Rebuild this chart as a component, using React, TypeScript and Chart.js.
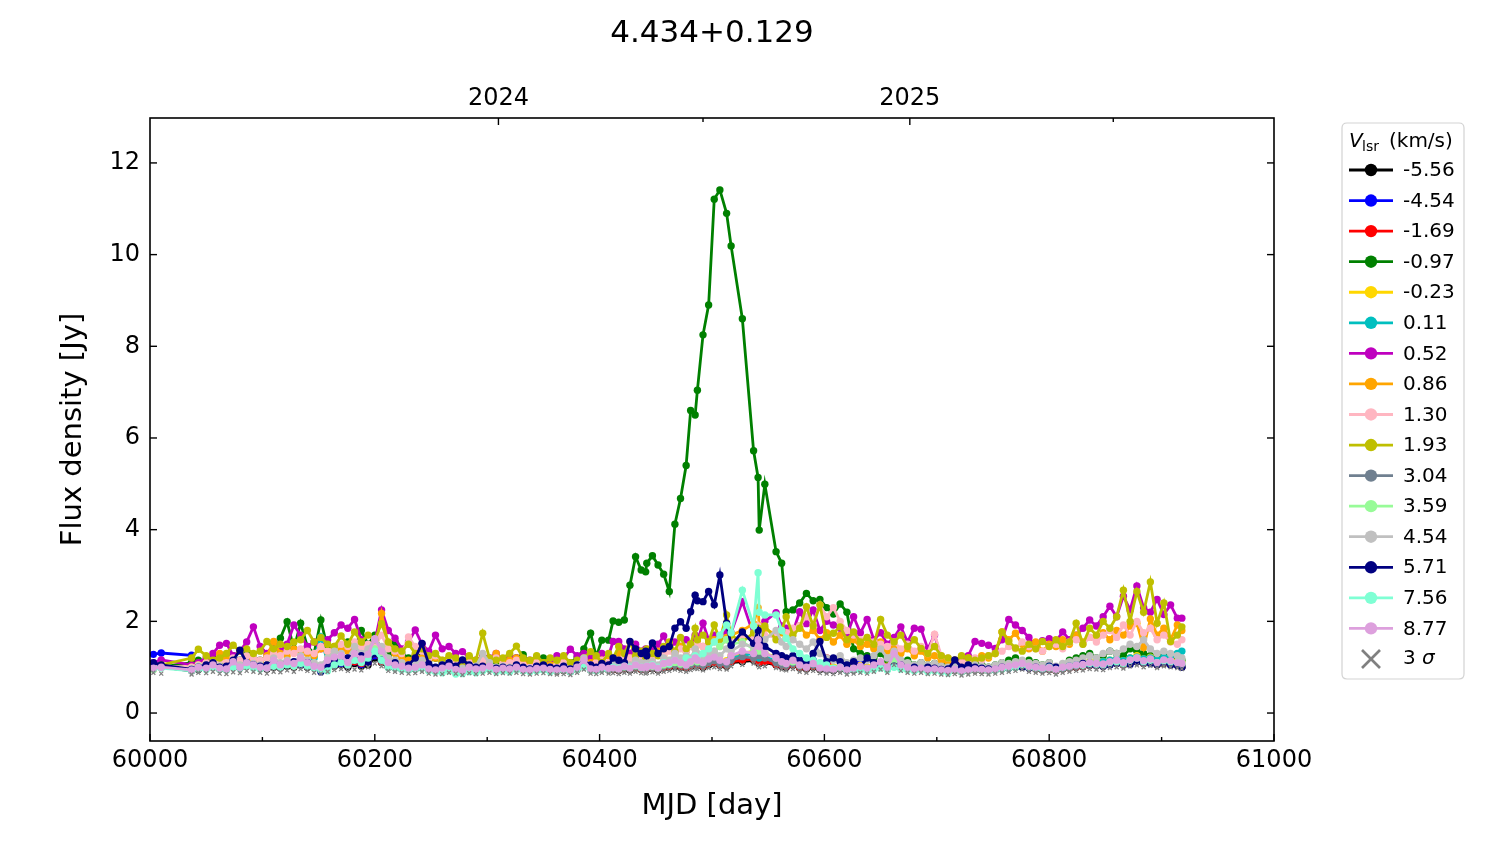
import React, { useEffect, useRef } from "react";
import { Chart, registerables } from "chart.js";

Chart.register(...registerables);

// ---------- data ----------
const titleText = "4.434+0.129";
const xTicks = [60000, 60200, 60400, 60600, 60800, 61000];
const xMinorTicks = [60100, 60300, 60500, 60700, 60900];
const yTicks = [0, 2, 4, 6, 8, 10, 12];
const yearTicks = [60310, 60676];
const yearLabels = ["2024", "2025"];
const yearMinorTicks = [60492, 60857];

const epochs = [
  60003, 60010, 60037, 60043, 60050, 60056, 60062, 60068, 60074, 60080, 60086, 60092,
  60098, 60104, 60110, 60116, 60122, 60128, 60134, 60140, 60146, 60152, 60158, 60164,
  60170, 60176, 60182, 60188, 60194, 60200, 60206, 60212, 60218, 60224, 60230, 60236,
  60242, 60248, 60254, 60260, 60266, 60272, 60278, 60284, 60290, 60296, 60302, 60308,
  60314, 60320, 60326, 60332, 60338, 60344, 60350, 60356, 60362, 60368, 60374, 60380,
  60386, 60392, 60397, 60402, 60408, 60412, 60417, 60422, 60427, 60432, 60437, 60441,
  60442, 60447, 60452, 60457, 60462, 60467, 60472, 60477, 60481, 60485, 60487, 60492,
  60497, 60502, 60507, 60513, 60517, 60527, 60537, 60541, 60542, 60547, 60557, 60562,
  60566, 60572, 60578, 60584, 60590, 60596, 60602, 60608, 60614, 60620, 60626, 60632,
  60638, 60644, 60650, 60656, 60662, 60668, 60674, 60680, 60686, 60692, 60698, 60704,
  60710, 60716, 60722, 60728, 60734, 60740, 60746, 60752, 60758, 60764, 60770, 60776,
  60782, 60788, 60794, 60800, 60806, 60812, 60818, 60824, 60830, 60836, 60842, 60848,
  60854, 60860, 60866, 60872, 60878, 60884, 60890, 60896, 60902, 60908, 60914, 60918,
];

const v_m556 = [
  1.05,1.00,0.92,0.95,0.98,1.00,0.96,0.95,1.00,0.98,1.02,1.00,
  0.98,0.96,1.00,0.98,1.02,1.00,1.05,1.00,0.98,0.95,1.00,1.02,
  1.05,1.00,1.08,1.02,1.05,1.20,1.10,1.00,0.98,0.96,0.95,0.96,
  0.98,0.94,0.92,0.94,0.96,0.92,0.90,0.95,0.92,0.94,0.96,0.92,
  0.94,0.92,0.96,0.93,0.92,0.94,0.95,0.92,0.91,0.93,0.90,0.95,
  1.02,0.94,0.93,0.96,0.94,0.95,0.93,0.96,0.94,0.98,0.95,0.94,
  0.96,0.97,0.94,0.98,1.00,1.02,1.00,0.98,1.02,1.05,1.04,1.00,
  1.05,1.08,1.04,1.02,1.10,1.12,1.15,1.12,1.08,1.10,1.05,1.02,
  1.00,1.04,0.98,0.96,1.00,0.95,0.94,0.93,0.96,0.92,0.94,0.96,
  0.94,0.98,1.02,0.96,1.12,1.00,0.96,0.94,0.96,0.93,0.94,0.92,
  0.91,0.93,0.90,0.92,0.94,0.93,0.92,0.94,0.96,0.98,1.00,1.02,
  0.98,0.96,0.94,0.95,0.92,0.96,0.98,1.00,1.01,1.04,1.03,1.02,
  1.06,1.08,1.05,1.10,1.12,1.08,1.10,1.05,1.08,1.06,1.04,1.00,
];
const v_m454 = [
  1.28,1.31,1.26,1.00,1.02,1.05,1.00,0.98,1.05,1.02,1.08,1.04,
  1.00,0.98,1.05,1.02,1.06,1.04,1.10,1.05,1.00,0.96,1.02,1.05,
  1.08,1.04,1.12,1.06,1.10,1.25,1.15,1.02,1.00,0.98,0.96,0.98,
  1.02,0.96,0.94,0.96,0.98,0.94,0.92,0.98,0.94,0.96,0.98,0.94,
  0.96,0.94,0.98,0.95,0.94,0.96,1.00,0.94,0.93,0.95,0.92,0.98,
  1.05,0.96,0.95,0.98,0.96,0.98,0.95,1.00,0.97,1.02,0.98,0.96,
  0.98,1.00,0.97,1.02,1.04,1.06,1.04,1.02,1.06,1.10,1.08,1.05,
  1.10,1.12,1.08,1.06,1.15,1.18,1.20,1.16,1.12,1.14,1.08,1.05,
  1.02,1.08,1.02,1.00,1.15,0.98,0.96,0.95,0.98,0.94,1.00,1.10,
  0.96,1.00,1.05,0.98,1.15,1.02,0.98,0.96,0.98,0.95,0.96,0.94,
  0.93,0.95,0.92,0.94,0.96,0.95,0.94,0.96,0.98,1.00,1.02,1.04,
  1.00,0.98,0.96,0.97,0.94,0.98,1.00,1.02,1.03,1.06,1.05,1.04,
  1.08,1.10,1.07,1.12,1.14,1.10,1.12,1.07,1.10,1.08,1.06,1.02,
];
const v_m169 = [
  1.00,1.02,0.95,1.00,1.02,1.05,1.00,0.98,1.04,1.00,1.06,1.02,
  1.00,0.98,1.04,1.00,1.08,1.02,1.10,1.04,1.00,0.96,1.04,1.08,
  1.10,1.05,1.12,1.08,1.10,1.30,1.12,1.02,1.00,0.97,0.96,0.98,
  1.00,0.95,0.93,0.95,0.97,0.93,0.92,0.96,0.93,0.95,0.97,0.93,
  0.95,0.93,0.97,0.94,0.93,0.95,0.96,0.93,0.92,0.94,0.92,0.96,
  1.04,0.95,0.94,0.97,0.95,0.96,0.94,0.98,0.96,1.00,0.96,0.95,
  0.98,0.99,0.96,1.00,1.02,1.05,1.02,1.00,1.04,1.08,1.06,1.02,
  1.08,1.10,1.06,1.04,1.12,1.15,1.18,1.14,1.10,1.12,1.06,1.04,
  1.02,1.06,1.00,0.98,1.02,0.97,1.20,0.95,0.98,0.94,0.96,0.98,
  0.96,1.00,1.04,0.98,1.14,1.02,0.98,0.96,0.98,0.95,0.96,0.94,
  0.92,0.94,0.91,0.93,0.95,0.94,0.93,0.95,0.97,0.99,1.01,1.03,
  0.99,0.97,0.95,0.96,0.93,0.97,0.99,1.01,1.02,1.05,1.04,1.03,
  1.07,1.09,1.06,1.11,1.13,1.09,1.11,1.06,1.09,1.07,1.05,1.01,
];
const v_m097 = [
  1.05,1.00,1.10,1.15,1.05,1.20,1.10,1.05,1.25,1.15,1.30,1.20,
  1.15,1.20,1.30,1.63,1.99,1.40,1.96,1.45,1.30,2.03,1.40,1.35,
  1.45,1.55,1.40,1.80,1.50,1.70,1.35,1.25,1.55,1.30,1.20,1.25,
  1.30,1.15,1.20,1.10,1.15,1.05,1.10,1.20,1.10,1.23,1.15,1.10,
  1.15,1.10,1.20,1.27,1.10,1.15,1.20,1.10,1.05,1.15,1.10,1.20,
  1.40,1.74,1.23,1.59,1.59,2.01,1.98,2.03,2.79,3.41,3.12,3.08,
  3.27,3.43,3.23,3.03,2.65,4.12,4.68,5.40,6.60,6.50,7.04,8.25,
  8.90,11.21,11.41,10.90,10.19,8.60,5.72,5.14,3.99,4.99,3.52,3.27,
  2.21,2.25,2.40,2.61,2.45,2.48,2.30,2.16,2.38,2.20,1.40,1.30,
  1.25,1.20,1.30,1.15,1.20,1.10,1.15,1.05,1.10,1.05,1.08,1.02,
  1.18,1.10,1.05,1.20,1.10,1.05,1.00,1.05,1.10,1.15,1.20,1.10,
  1.15,1.10,1.05,1.10,1.00,1.05,1.15,1.20,1.25,1.30,1.20,1.25,
  1.35,1.30,1.25,1.40,1.35,1.30,1.25,1.20,1.30,1.25,1.20,1.15,
];
const v_m023 = [
  1.02,1.00,0.98,1.05,1.04,1.08,1.02,1.00,1.10,1.04,1.12,1.06,
  1.04,1.02,1.10,1.06,1.12,1.08,1.15,1.10,1.04,1.00,1.08,1.12,
  1.15,1.08,1.20,1.12,1.18,1.40,1.20,1.06,1.04,1.00,0.98,1.00,
  1.04,0.98,0.96,0.98,1.00,0.96,0.94,0.99,0.96,1.05,1.00,0.96,
  0.98,0.96,1.02,0.97,0.96,0.98,0.99,0.96,0.95,0.97,0.94,1.00,
  1.08,0.98,0.96,1.00,0.98,1.02,0.98,1.04,1.00,1.06,1.02,1.00,
  1.04,1.05,1.00,1.08,1.10,1.12,1.10,1.08,1.12,1.18,1.15,1.12,
  1.18,1.22,1.16,1.14,1.25,1.30,1.35,1.40,1.28,1.30,1.22,1.18,
  1.12,1.18,1.10,1.06,1.12,1.04,1.02,1.00,1.04,0.98,1.02,1.04,
  1.00,1.06,1.10,1.02,1.20,1.06,1.02,1.00,1.02,0.98,1.00,0.97,
  0.95,0.98,0.94,0.96,0.99,0.98,0.96,0.99,1.02,1.04,1.06,1.10,
  1.04,1.02,1.00,1.01,0.98,1.02,1.04,1.08,1.10,1.12,1.10,1.12,
  1.15,1.18,1.14,1.20,1.25,1.18,1.22,1.14,1.18,1.16,1.12,1.10,
];
const v_011 = [
  1.00,1.04,0.96,1.00,1.02,1.06,1.00,0.98,1.08,1.02,1.08,1.04,
  1.02,1.00,1.08,1.04,1.10,1.06,1.12,1.08,1.20,1.66,1.10,1.15,
  1.18,1.10,1.22,1.15,1.20,1.35,1.18,1.05,1.02,0.98,0.97,0.99,
  1.02,0.96,0.94,0.96,0.98,0.94,0.93,0.97,0.94,0.96,0.98,0.94,
  0.96,0.94,0.99,0.95,0.94,0.96,0.97,0.94,0.93,0.95,0.93,0.98,
  1.06,0.96,0.95,0.98,0.96,1.00,0.96,1.02,0.98,1.04,1.00,0.98,
  1.02,1.03,0.98,1.06,1.08,1.10,1.08,1.05,1.10,1.15,1.12,1.08,
  1.15,1.18,1.12,1.10,1.20,1.25,1.30,1.28,1.20,1.22,1.15,1.12,
  1.08,1.12,1.05,1.02,1.08,1.00,0.98,0.97,1.00,0.95,0.98,1.00,
  0.97,1.02,1.06,0.99,1.15,1.03,0.99,0.97,0.99,0.96,0.97,0.95,
  0.94,0.96,0.93,0.95,0.97,0.96,0.95,0.97,1.00,1.02,1.04,1.06,
  1.02,1.00,0.98,0.99,0.96,1.00,1.02,1.05,1.07,1.10,1.08,1.12,
  1.15,1.18,1.14,1.20,1.22,1.18,1.20,1.16,1.22,1.25,1.30,1.35,
];
const v_052 = [
  1.10,1.16,1.05,1.10,1.20,1.30,1.48,1.52,1.25,1.35,1.55,1.88,
  1.45,1.30,1.48,1.35,1.50,1.92,1.70,1.45,1.55,1.40,1.60,1.75,
  1.92,1.85,2.04,1.60,1.45,1.55,2.25,1.80,1.63,1.40,1.55,1.81,
  1.50,1.35,1.70,1.40,1.45,1.30,1.34,1.20,1.15,1.25,1.20,1.30,
  1.15,1.25,1.20,1.10,1.15,1.20,1.10,1.15,1.25,1.20,1.39,1.25,
  1.30,1.20,1.15,1.30,1.25,1.56,1.56,1.40,1.30,1.50,1.35,1.40,
  1.35,1.45,1.50,1.68,1.40,1.55,1.45,1.60,1.50,1.70,1.55,1.96,
  1.60,1.70,1.55,1.80,1.75,2.43,1.70,1.85,1.65,2.00,2.19,1.90,
  1.85,1.77,2.21,1.95,2.25,1.80,2.00,1.92,1.85,1.70,2.10,1.75,
  2.04,1.60,1.75,1.50,1.65,1.88,1.55,1.85,1.83,1.40,1.70,1.20,
  1.15,1.10,1.20,1.25,1.56,1.52,1.48,1.41,1.60,2.04,1.92,1.80,
  1.65,1.45,1.58,1.62,1.56,1.77,1.60,1.70,1.85,2.03,1.90,2.10,
  2.33,2.10,2.55,2.25,2.77,2.30,2.20,2.48,2.15,2.36,2.07,2.07,
];
const v_086 = [
  0.95,1.00,1.00,1.05,1.10,1.10,1.30,1.20,1.15,1.10,1.20,1.15,
  1.10,1.25,1.56,1.30,1.25,1.40,1.35,1.30,1.25,1.40,1.35,1.45,
  1.40,1.35,1.50,1.45,1.40,1.35,2.17,1.50,1.30,1.20,1.15,1.25,
  1.20,1.15,1.20,1.10,1.15,1.10,1.05,1.15,1.10,1.20,1.15,1.30,
  1.10,1.15,1.20,1.10,1.05,1.15,1.10,1.05,1.10,1.15,1.05,1.10,
  1.15,1.10,1.20,1.15,1.25,1.20,1.30,1.25,1.20,1.15,1.25,1.20,
  1.30,1.20,1.35,1.25,1.40,1.30,1.45,1.35,1.50,1.40,1.55,1.45,
  1.50,1.60,1.55,1.65,1.70,1.80,1.95,2.30,1.90,1.85,1.70,1.75,
  1.65,1.77,1.90,1.70,1.80,1.60,1.75,1.55,1.70,1.50,1.60,1.45,
  1.50,1.40,1.55,1.35,1.45,1.30,1.40,1.25,1.35,1.20,1.25,1.15,
  1.10,1.15,1.10,1.20,1.15,1.25,1.20,1.30,1.77,1.60,1.74,1.50,
  1.40,1.55,1.35,1.50,1.45,1.60,1.50,1.70,1.55,1.65,1.67,1.75,
  1.60,1.80,1.70,1.90,1.96,1.43,2.05,1.70,1.85,1.60,1.92,1.80,
];
const v_130 = [
  0.98,1.02,1.00,1.05,1.10,1.05,1.15,1.10,1.20,1.15,1.25,1.20,
  1.15,1.20,1.30,1.25,1.35,1.30,1.40,1.35,1.30,1.45,1.35,1.40,
  1.50,1.45,1.55,1.40,1.50,1.45,1.70,1.40,1.35,1.30,1.66,1.45,
  1.35,1.20,1.25,1.15,1.20,1.10,1.15,1.10,1.05,1.15,1.10,1.20,
  1.05,1.10,1.15,1.05,1.00,1.10,1.05,1.00,1.05,1.10,1.00,1.05,
  1.10,1.05,1.10,1.15,1.10,1.20,1.15,1.25,1.20,1.15,1.25,1.20,
  1.25,1.20,1.30,1.25,1.35,1.30,1.40,1.35,1.45,1.40,1.50,1.45,
  1.50,1.55,1.45,1.60,1.55,1.70,1.65,1.90,1.75,1.70,1.65,1.80,
  1.75,1.85,1.90,2.10,1.95,2.36,2.10,2.30,2.00,1.80,1.70,1.60,
  1.65,1.55,1.50,1.45,1.55,1.40,1.50,1.35,1.45,1.30,1.72,1.25,
  1.20,1.15,1.10,1.15,1.20,1.15,1.25,1.30,1.35,1.45,1.40,1.55,
  1.45,1.40,1.35,1.45,1.50,1.40,1.55,1.60,1.50,1.65,1.55,1.70,
  1.80,1.65,1.92,1.70,2.00,1.75,1.85,1.60,1.70,1.55,1.50,1.60,
];
const v_193 = [
  1.00,1.05,1.20,1.39,1.25,1.15,1.20,1.30,1.48,1.35,1.40,1.30,
  1.35,1.56,1.40,1.50,1.45,1.55,1.60,1.80,1.55,1.65,1.50,1.45,
  1.68,1.50,1.77,1.55,1.70,1.60,1.95,1.55,1.40,1.35,1.50,1.30,
  1.40,1.25,1.30,1.15,1.25,1.20,1.10,1.25,1.15,1.74,1.20,1.15,
  1.20,1.30,1.46,1.20,1.15,1.25,1.10,1.20,1.15,1.25,1.10,1.15,
  1.20,1.34,1.25,1.10,1.30,1.20,1.45,1.30,1.55,1.25,1.35,1.20,
  1.40,1.30,1.25,1.45,1.55,1.35,1.65,1.40,1.50,1.85,1.60,1.70,
  1.55,1.92,1.60,2.14,1.70,1.55,1.75,1.85,1.40,1.90,1.60,1.80,
  2.10,1.70,1.85,2.32,1.90,2.36,1.65,1.74,1.88,1.60,1.77,1.55,
  1.65,1.50,2.04,1.70,1.55,1.70,1.45,1.60,1.41,1.30,1.45,1.25,
  1.20,1.15,1.25,1.20,1.15,1.20,1.25,1.30,1.77,1.56,1.42,1.35,
  1.50,1.40,1.56,1.45,1.60,1.45,1.55,1.96,1.50,1.85,1.70,2.00,
  1.85,2.10,2.68,2.00,2.65,2.20,2.86,1.96,2.40,1.56,1.70,1.88,
];
const v_304 = [
  0.98,1.00,0.94,0.98,1.00,1.04,0.98,0.96,1.04,1.00,1.05,1.02,
  1.00,0.98,1.06,1.02,1.08,1.04,1.10,1.05,1.00,0.96,1.04,1.08,
  1.12,1.05,1.15,1.10,1.12,1.32,1.14,1.02,1.00,0.97,0.96,0.98,
  1.00,0.95,0.93,0.95,0.97,0.93,0.91,0.96,0.93,0.95,0.97,0.93,
  0.95,0.93,0.97,0.94,0.93,0.95,0.96,0.93,0.92,0.94,0.91,0.97,
  1.04,0.95,0.94,0.97,0.95,0.97,0.94,0.99,0.96,1.01,0.97,0.95,
  0.99,1.00,0.96,1.02,1.04,1.06,1.04,1.02,1.06,1.10,1.08,1.04,
  1.10,1.14,1.08,1.06,1.15,1.23,1.20,1.40,1.25,1.20,1.10,1.06,
  1.04,1.08,1.02,0.99,1.04,0.97,0.95,0.94,0.97,0.93,0.95,0.97,
  0.95,0.99,1.03,0.97,1.12,1.00,0.97,0.95,0.97,0.94,0.95,0.93,
  0.92,0.94,0.91,0.93,0.95,0.94,0.93,0.95,0.97,0.99,1.01,1.03,
  0.99,0.97,0.95,0.96,0.93,0.97,0.99,1.02,1.03,1.06,1.04,1.03,
  1.07,1.09,1.06,1.11,1.13,1.09,1.11,1.06,1.09,1.07,1.05,1.02,
];
const v_359 = [
  1.00,1.02,0.96,1.02,1.04,1.08,1.02,1.00,1.10,1.04,1.10,1.06,
  1.02,1.00,1.10,1.05,1.12,1.06,1.15,1.08,1.02,0.98,1.08,1.15,
  1.18,1.08,1.22,1.12,1.20,1.40,1.22,1.05,1.02,0.99,0.97,0.99,
  1.02,0.96,0.94,0.96,0.99,0.94,0.92,0.97,0.94,0.97,0.99,0.94,
  0.96,0.94,0.98,0.95,0.94,0.96,0.97,0.94,0.93,0.95,0.92,0.98,
  1.06,0.96,0.95,0.98,0.96,0.99,0.96,1.01,0.98,1.03,0.99,0.97,
  1.01,1.02,0.98,1.05,1.07,1.10,1.07,1.05,1.10,1.15,1.12,1.10,
  1.20,1.35,1.45,1.60,1.50,1.55,1.40,1.50,1.35,1.30,1.20,1.12,
  1.08,1.12,1.05,1.02,1.08,1.00,0.98,0.96,0.99,0.94,0.97,0.99,
  0.96,1.01,1.05,0.98,1.14,1.02,0.98,0.96,0.98,0.95,0.96,0.94,
  0.93,0.95,0.92,0.94,0.96,0.95,0.94,0.96,0.99,1.01,1.03,1.05,
  1.01,0.99,0.97,0.98,0.95,0.99,1.01,1.04,1.05,1.08,1.06,1.05,
  1.09,1.11,1.08,1.13,1.16,1.11,1.14,1.09,1.12,1.10,1.08,1.04,
];
const v_454 = [
  1.00,1.02,0.96,1.00,1.05,1.10,1.02,1.00,1.15,1.05,1.10,1.08,
  1.05,1.02,1.20,1.10,1.15,1.12,1.25,1.15,1.10,1.05,1.20,1.35,
  1.30,1.20,1.45,1.30,1.40,1.60,1.45,1.20,1.15,1.10,1.05,1.10,
  1.15,1.05,1.00,1.05,1.10,1.00,0.98,1.05,1.02,1.30,1.10,1.00,
  1.02,1.00,1.05,1.00,0.98,1.02,1.04,1.00,0.98,1.02,0.96,1.05,
  1.20,1.00,0.98,1.05,1.02,1.10,1.05,1.10,1.05,1.15,1.10,1.05,
  1.10,1.12,1.05,1.20,1.15,1.30,1.20,1.25,1.20,1.40,1.30,1.25,
  1.30,1.35,1.25,1.40,1.35,1.50,1.45,1.70,1.55,1.60,1.80,1.55,
  1.45,1.60,1.50,1.40,1.55,1.30,1.20,1.15,1.25,1.10,1.15,1.20,
  1.15,1.25,1.40,1.20,1.35,1.15,1.10,1.05,1.10,1.05,1.08,1.02,
  1.00,1.02,0.98,1.00,1.05,1.02,1.00,1.05,1.10,1.08,1.12,1.15,
  1.10,1.08,1.05,1.10,1.02,1.08,1.12,1.15,1.20,1.25,1.20,1.30,
  1.35,1.30,1.40,1.50,1.45,1.60,1.40,1.30,1.35,1.30,1.25,1.20,
];
const v_571 = [
  1.10,1.05,0.95,1.00,1.05,1.10,1.00,1.02,1.15,1.37,1.10,1.05,
  1.02,1.05,1.10,1.00,1.08,1.12,1.05,1.10,1.00,0.90,1.05,1.15,
  1.10,1.20,1.15,1.25,1.10,1.30,1.15,1.05,1.10,1.00,1.05,1.20,
  1.52,1.07,1.00,1.05,1.10,1.02,1.16,1.05,1.00,1.02,1.00,0.98,
  1.00,0.98,1.05,1.00,0.96,1.02,1.05,1.00,0.98,1.02,0.96,1.05,
  1.10,1.05,1.00,1.08,1.05,1.20,1.15,1.10,1.56,1.40,1.30,1.35,
  1.25,1.53,1.30,1.40,1.45,1.85,1.99,1.85,2.21,2.57,2.45,2.43,
  2.65,2.36,3.01,1.96,1.48,1.77,1.52,1.80,1.60,1.45,1.30,1.25,
  1.20,1.25,1.15,1.10,1.30,1.56,1.12,1.20,1.12,1.05,1.12,1.00,
  1.20,1.10,1.05,1.00,1.02,1.05,0.98,1.00,0.96,1.00,0.98,0.95,
  0.96,1.16,1.00,1.05,1.00,0.98,0.96,0.95,1.00,0.98,1.02,1.00,
  0.98,1.00,0.96,1.02,1.00,0.98,1.02,1.05,1.08,1.05,1.04,1.02,
  1.05,1.08,1.10,1.06,1.12,1.10,1.08,1.06,1.10,1.05,1.04,1.00,
];
const v_756 = [
  0.95,0.98,0.92,0.96,0.95,1.00,0.96,0.94,1.00,0.98,1.02,0.98,
  0.96,0.98,1.02,1.00,1.05,1.02,1.08,1.02,0.98,0.94,0.92,1.05,
  1.10,1.05,1.15,1.10,1.20,1.35,1.15,1.00,0.98,0.95,0.94,0.96,
  0.98,0.92,0.90,0.88,0.92,0.85,0.86,0.90,0.88,0.92,0.95,0.90,
  0.92,0.90,0.95,0.92,0.90,0.92,0.94,0.90,0.92,0.94,0.90,0.95,
  1.00,0.94,0.92,0.96,0.95,1.00,0.98,1.02,1.00,1.05,1.00,0.98,
  1.02,1.05,1.00,1.10,1.08,1.15,1.10,1.20,1.15,1.25,1.20,1.30,
  1.40,1.55,1.70,1.92,1.75,2.68,1.90,3.06,2.20,2.14,2.14,1.80,
  1.63,1.40,1.30,1.20,1.15,1.10,1.05,0.98,1.00,0.92,0.96,0.94,
  0.92,0.95,0.98,0.94,1.00,0.96,0.94,0.92,0.95,0.90,0.92,0.90,
  0.88,0.94,0.90,0.92,0.95,0.94,0.92,0.94,0.96,0.98,1.00,1.05,
  1.00,0.98,0.96,1.00,0.95,0.98,1.02,1.05,1.04,1.08,1.06,1.05,
  1.10,1.12,1.08,1.15,1.20,1.12,1.15,1.10,1.14,1.12,1.10,1.08,
];
const v_877 = [
  0.98,1.00,0.94,1.00,0.98,1.05,0.98,0.96,1.12,1.00,1.10,1.05,
  1.00,0.98,1.15,1.05,1.12,1.08,1.20,1.10,1.02,1.00,1.15,1.22,
  1.25,1.10,1.30,1.18,1.28,1.62,1.35,1.10,1.05,1.02,0.98,1.00,
  1.05,0.96,0.94,0.98,1.02,0.95,0.92,1.00,0.96,0.98,1.02,0.95,
  0.98,0.96,1.00,0.95,0.94,0.97,0.98,0.95,0.94,0.96,0.93,1.00,
  1.15,0.96,0.95,1.00,0.97,0.98,0.96,1.02,0.98,1.05,1.00,0.97,
  1.02,1.03,0.98,1.08,1.10,1.15,1.10,1.05,1.12,1.20,1.15,1.10,
  1.18,1.22,1.15,1.12,1.25,1.35,1.30,1.60,1.45,1.30,1.20,1.12,
  1.08,1.15,1.05,1.00,1.08,0.98,0.96,0.95,1.00,0.94,0.98,1.02,
  0.98,1.05,1.12,1.00,1.30,1.05,1.00,0.96,0.98,0.95,0.96,0.94,
  0.93,0.95,0.92,0.94,0.96,0.95,0.94,0.96,1.00,1.02,1.05,1.08,
  1.02,1.00,0.98,0.99,0.95,1.00,1.02,1.05,1.06,1.10,1.08,1.07,
  1.12,1.15,1.10,1.16,1.20,1.14,1.18,1.10,1.16,1.14,1.10,1.08,
];
const sigma3 = [
  0.88,0.86,0.84,0.88,0.87,0.90,0.86,0.85,0.89,0.87,0.92,0.90,
  0.88,0.86,0.90,0.89,0.93,0.90,0.96,0.92,0.88,0.86,0.90,0.94,
  0.96,0.92,0.95,0.93,1.00,1.08,1.02,0.92,0.90,0.88,0.86,0.87,
  0.90,0.86,0.84,0.85,0.88,0.86,0.83,0.87,0.85,0.86,0.88,0.85,
  0.87,0.86,0.88,0.85,0.84,0.86,0.87,0.85,0.84,0.85,0.83,0.88,
  0.95,0.86,0.85,0.88,0.86,0.87,0.85,0.88,0.86,0.90,0.87,0.86,
  0.88,0.89,0.86,0.90,0.92,0.95,0.92,0.90,0.94,0.97,0.96,0.93,
  0.98,1.00,0.96,0.95,1.02,1.05,1.08,1.04,1.00,1.02,0.98,0.95,
  0.93,0.96,0.90,0.88,0.92,0.87,0.86,0.85,0.88,0.84,0.86,0.88,
  0.86,0.90,0.95,0.88,1.05,0.92,0.88,0.86,0.88,0.85,0.86,0.84,
  0.83,0.85,0.82,0.84,0.86,0.85,0.84,0.86,0.88,0.90,0.92,0.95,
  0.90,0.88,0.86,0.87,0.84,0.88,0.90,0.92,0.93,0.96,0.95,0.94,
  0.98,1.00,0.97,1.02,1.04,1.00,1.03,0.98,1.02,1.00,0.98,0.96,
];

const seriesNames = ["-5.56", "-4.54", "-1.69", "-0.97", "-0.23", "0.11", "0.52", "0.86",
  "1.30", "1.93", "3.04", "3.59", "4.54", "5.71", "7.56", "8.77"];
const seriesValues = [v_m556, v_m454, v_m169, v_m097, v_m023, v_011, v_052, v_086,
  v_130, v_193, v_304, v_359, v_454, v_571, v_756, v_877];
const seriesColors = ["#000000", "#0000ff", "#ff0000", "#008000", "#ffd700", "#00bfbf",
  "#bf00bf", "#ffa500", "#ffb6c1", "#bfbf00", "#708090", "#98fb98", "#c0c0c0",
  "#000080", "#7fffd4", "#dda0dd"];
const sigmaLabel = "3";
const sigmaColor = "#808080";

const FONT = "'DejaVu Sans', sans-serif";

const decorPlugin = {
  id: "decor",
  afterDraw(chart: any) {
    const { ctx, chartArea: a, scales } = chart;
    const sx = scales.x;
    const sy = scales.y;
    ctx.save();
    // frame
    ctx.strokeStyle = "#000";
    ctx.lineWidth = 1.6;
    ctx.strokeRect(a.left, a.top, a.right - a.left, a.bottom - a.top);
    // inward ticks
    ctx.lineWidth = 1.4;
    const tick = (x1: number, y1: number, x2: number, y2: number) => {
      ctx.beginPath();
      ctx.moveTo(x1, y1);
      ctx.lineTo(x2, y2);
      ctx.stroke();
    };
    xTicks.forEach((v) => {
      const p = sx.getPixelForValue(v);
      tick(p, a.bottom, p, a.bottom - 7);
    });
    xMinorTicks.forEach((v) => {
      const p = sx.getPixelForValue(v);
      tick(p, a.bottom, p, a.bottom - 4);
    });
    yearTicks.forEach((v) => {
      const p = sx.getPixelForValue(v);
      tick(p, a.top, p, a.top + 7);
    });
    yearMinorTicks.forEach((v) => {
      const p = sx.getPixelForValue(v);
      tick(p, a.top, p, a.top + 4);
    });
    yTicks.forEach((v) => {
      const p = sy.getPixelForValue(v);
      tick(a.left, p, a.left + 7, p);
      tick(a.right, p, a.right - 7, p);
    });

    // title and axis titles
    ctx.fillStyle = "#000";
    ctx.textAlign = "center";
    ctx.textBaseline = "middle";
    const cx = (a.left + a.right) / 2;
    ctx.font = `31px ${FONT}`;
    ctx.fillText(titleText, cx, 34);
    ctx.font = `29px ${FONT}`;
    ctx.fillText("MJD [day]", cx, 806);
    ctx.save();
    ctx.translate(73, (a.top + a.bottom) / 2);
    ctx.rotate(-Math.PI / 2);
    ctx.fillText("Flux density [Jy]", 0, 0);
    ctx.restore();

    // legend
    const lx = 1342, ly = 123, lw = 122, lh = 556, r = 5;
    ctx.beginPath();
    ctx.moveTo(lx + r, ly);
    ctx.lineTo(lx + lw - r, ly);
    ctx.quadraticCurveTo(lx + lw, ly, lx + lw, ly + r);
    ctx.lineTo(lx + lw, ly + lh - r);
    ctx.quadraticCurveTo(lx + lw, ly + lh, lx + lw - r, ly + lh);
    ctx.lineTo(lx + r, ly + lh);
    ctx.quadraticCurveTo(lx, ly + lh, lx, ly + lh - r);
    ctx.lineTo(lx, ly + r);
    ctx.quadraticCurveTo(lx, ly, lx + r, ly);
    ctx.closePath();
    ctx.fillStyle = "rgba(255,255,255,0.85)";
    ctx.fill();
    ctx.strokeStyle = "#d3d3d3";
    ctx.lineWidth = 1.2;
    ctx.stroke();

    // legend title: V_lsr (km/s)
    ctx.fillStyle = "#000";
    ctx.textAlign = "left";
    ctx.textBaseline = "alphabetic";
    ctx.font = `italic 20px ${FONT}`;
    ctx.fillText("V", 1349, 147);
    ctx.font = `14px ${FONT}`;
    ctx.fillText("lsr", 1362, 151);
    ctx.font = `20px ${FONT}`;
    ctx.fillText("(km/s)", 1389, 147);

    const rowY0 = 170, rowDy = 30.56;
    ctx.textBaseline = "middle";
    seriesNames.forEach((name, i) => {
      const yy = rowY0 + i * rowDy;
      ctx.strokeStyle = seriesColors[i];
      ctx.lineWidth = 2.8;
      tick(1349, yy, 1393, yy);
      ctx.fillStyle = seriesColors[i];
      ctx.beginPath();
      ctx.arc(1371, yy, 6.2, 0, Math.PI * 2);
      ctx.fill();
      ctx.fillStyle = "#000";
      ctx.font = `20px ${FONT}`;
      ctx.fillText(name, 1403, yy + 1);
    });
    const ys = rowY0 + seriesNames.length * rowDy;
    ctx.strokeStyle = sigmaColor;
    ctx.lineWidth = 2.6;
    tick(1362, ys - 9, 1380, ys + 9);
    tick(1362, ys + 9, 1380, ys - 9);
    ctx.fillStyle = "#000";
    ctx.font = `20px ${FONT}`;
    ctx.fillText(sigmaLabel + " ", 1403, ys);
    const w3 = ctx.measureText(sigmaLabel + " ").width;
    ctx.font = `italic 20px ${FONT}`;
    ctx.fillText("σ", 1403 + w3, ys);

    ctx.restore();
  },
};

export default function App() {
  const ref = useRef<HTMLCanvasElement | null>(null);

  useEffect(() => {
    if (!ref.current) return;
    Chart.defaults.font.family = FONT;
    const datasets: any[] = seriesValues.map((vals, i) => ({
      label: seriesNames[i],
      data: epochs.map((x, j) => ({ x, y: vals[j] })),
      borderColor: seriesColors[i],
      backgroundColor: seriesColors[i],
      pointBackgroundColor: seriesColors[i],
      pointBorderWidth: 0,
      pointRadius: 3.7,
      borderWidth: 2.8,
      tension: 0,
      order: 40 - i,
    }));
    datasets.push({
      label: "3 sigma",
      data: epochs.map((x, j) => ({ x, y: sigma3[j] })),
      showLine: false,
      pointStyle: "crossRot",
      pointRadius: 2.8,
      pointBorderWidth: 1.3,
      borderColor: sigmaColor,
      backgroundColor: sigmaColor,
      order: 0,
    });

    const chart = new Chart(ref.current, {
      type: "line",
      data: { datasets },
      options: {
        animation: false,
        responsive: false,
        maintainAspectRatio: false,
        layout: { padding: { left: 0, right: 226, top: 0, bottom: 0 } },
        plugins: {
          legend: { display: false },
          tooltip: { enabled: false },
          title: { display: false },
        },
        scales: {
          x: {
            type: "linear",
            position: "bottom",
            min: 60000,
            max: 61000,
            grid: { display: false, drawTicks: false },
            border: { display: false },
            ticks: {
              color: "#000",
              font: { size: 24 },
              padding: 5,
              maxRotation: 0,
              autoSkip: false,
              callback: (v: any) => String(v),
            },
            afterBuildTicks: (s: any) => {
              s.ticks = xTicks.map((v) => ({ value: v }));
            },
            afterFit: (s: any) => {
              s.height = 103;
            },
          },
          x2: {
            type: "linear",
            position: "top",
            min: 60000,
            max: 61000,
            grid: { display: false, drawTicks: false },
            border: { display: false },
            ticks: {
              color: "#000",
              font: { size: 24 },
              padding: 5,
              maxRotation: 0,
              autoSkip: false,
              callback: (v: any) => {
                const k = yearTicks.indexOf(v);
                return k >= 0 ? yearLabels[k] : "";
              },
            },
            afterBuildTicks: (s: any) => {
              s.ticks = yearTicks.map((v) => ({ value: v }));
            },
            afterFit: (s: any) => {
              s.height = 118;
            },
          },
          y: {
            type: "linear",
            min: -0.61,
            max: 12.98,
            grid: { display: false, drawTicks: false },
            border: { display: false },
            ticks: {
              color: "#000",
              font: { size: 24 },
              padding: 10,
              autoSkip: false,
              callback: (v: any) => String(v),
            },
            afterBuildTicks: (s: any) => {
              s.ticks = yTicks.map((v) => ({ value: v }));
            },
            afterFit: (s: any) => {
              s.width = 150;
            },
          },
        },
      },
      plugins: [decorPlugin],
    });
    return () => chart.destroy();
  }, []);

  return (
    <div style={{ position: "absolute", left: 0, top: 0, width: 1500, height: 844, background: "#fff" }}>
      <canvas ref={ref} width={1500} height={844} style={{ width: 1500, height: 844 }} />
    </div>
  );
}
